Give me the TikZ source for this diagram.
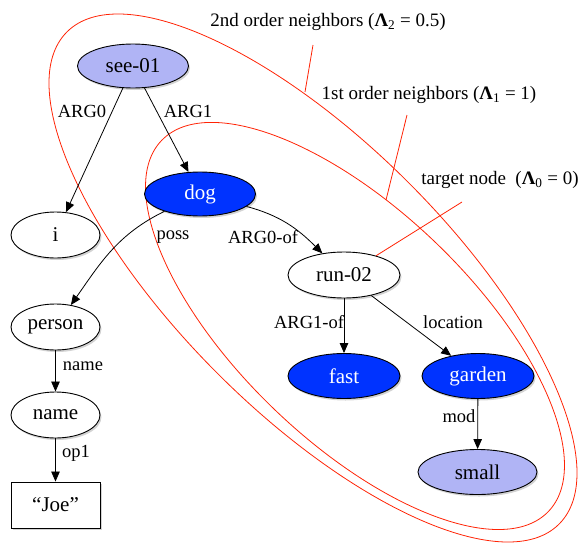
\documentclass[tikz,border=0pt]{standalone}
\usepackage{fontspec}
\setmainfont{Liberation Serif}
\usetikzlibrary{arrows.meta,shadows,shapes.geometric}
\definecolor{lav}{RGB}{176,180,245}
\definecolor{ablue}{RGB}{0,51,255}
\definecolor{ored}{RGB}{255,35,5}
\tikzset{
  amr/.style={ellipse, draw=black, line width=0.9pt, fill=white, inner sep=0pt,
    minimum width=90pt, minimum height=46pt, font=\fontsize{21}{25}\selectfont,
    drop shadow={shadow xshift=1.5pt, shadow yshift=-2pt, opacity=0.35}},
  hl/.style={fill=ablue, text=white},
  lt/.style={fill=lav},
  boxnode/.style={rectangle, draw=black, line width=0.9pt, fill=white, inner sep=0pt,
    minimum width=89pt, minimum height=46pt, font=\fontsize{21}{25}\selectfont,
    drop shadow={shadow xshift=1.5pt, shadow yshift=-2pt, opacity=0.35}},
  edge/.style={-{Triangle[length=10pt,width=8.5pt]}, line width=0.8pt},
  lab/.style={font=\fontsize{18.5}{22}\selectfont, inner sep=0pt},
  note/.style={font=\fontsize{19}{23}\selectfont, inner sep=0pt},
  ring/.style={draw=ored, line width=0.8pt},
}
\begin{document}
\begin{tikzpicture}[x=1pt,y=-1pt]
\useasboundingbox (0,0) rectangle (581,544);

% red neighbourhood curves
\coordinate (c2) at (313,278);
\coordinate (c1) at (355,326);
\draw[ring, rotate around={-45:(c2)}] (c2) ellipse [x radius=348pt, y radius=135pt];
\draw[ring, rotate around={-43.8:(c1)}] (c1) ellipse [x radius=268pt, y radius=116pt];

% nodes
\node[amr, lt, minimum width=111pt, minimum height=44pt] (see) at (133,66) {see-01};
\node[amr, minimum width=89pt] (i) at (55.5,235) {i};
\node[amr, hl, minimum width=111pt, minimum height=44pt] (dog) at (200,194) {dog};
\node[amr, minimum width=112pt] (run) at (344,275) {run-02};
\node[amr, minimum width=89pt] (person) at (55.5,327) {person};
\node[amr, minimum width=89pt] (name) at (55.5,415) {name};
\node[boxnode] (joe) at (55.5,505) {“Joe”};
\node[amr, hl, minimum width=112pt, minimum height=45pt] (fast) at (344,376) {fast};
\node[amr, hl, minimum width=112pt, minimum height=45pt] (garden) at (478,376) {garden};
\node[amr, lt, minimum width=119pt, minimum height=45pt] (small) at (477.5,472) {small};

% edges
\draw[edge] (see) -- (i);
\draw[edge] (see) -- (dog);
\draw[edge] (dog) to[out=206, in=55] (person);
\draw[edge] (dog) to[out=-15, in=135] (run);
\draw[edge] (person) -- (name);
\draw[edge] (name) -- (joe);
\draw[edge] (run) -- (fast);
\draw[edge] (run) -- (garden);
\draw[edge] (garden) -- (small);

% edge labels
\node[lab] (l1) at (82,111) {ARG0};
\node[lab] (l2) at (188,111) {ARG1};
\node[lab] (l3) at (173,237) {poss};
\node[lab] (l4) at (263,237) {ARG0-of};
\node[lab] (l5) at (83,366) {name};
\node[lab] (l6) at (76,453) {op1};
\node[lab] (l7) at (309,322) {ARG1-of};
\node[lab] (l8) at (453,322) {location};
\node[lab] (l9) at (459,416) {mod};

% annotation labels and pointers
\node[note] (t2) at (328,22) {2nd order neighbors (\textbf{Λ}\textsubscript{2} = 0.5)};
\node[note] (t1) at (429,95) {1st order neighbors (\textbf{Λ}\textsubscript{1} = 1)};
\node[note] (t0) at (500,180) {target node\ \ (\textbf{Λ}\textsubscript{0} = 0)};
\coordinate (p2a) at (313,45);
\coordinate (p2b) at (305,92);
\coordinate (p1a) at (407,115);
\coordinate (p1b) at (386,200);
\coordinate (p0a) at (462,202);
\draw[ring] (p2a) -- (p2b);
\draw[ring] (p1a) -- (p1b);
\draw[ring] (p0a) -- (run.31);
\end{tikzpicture}
\end{document}
